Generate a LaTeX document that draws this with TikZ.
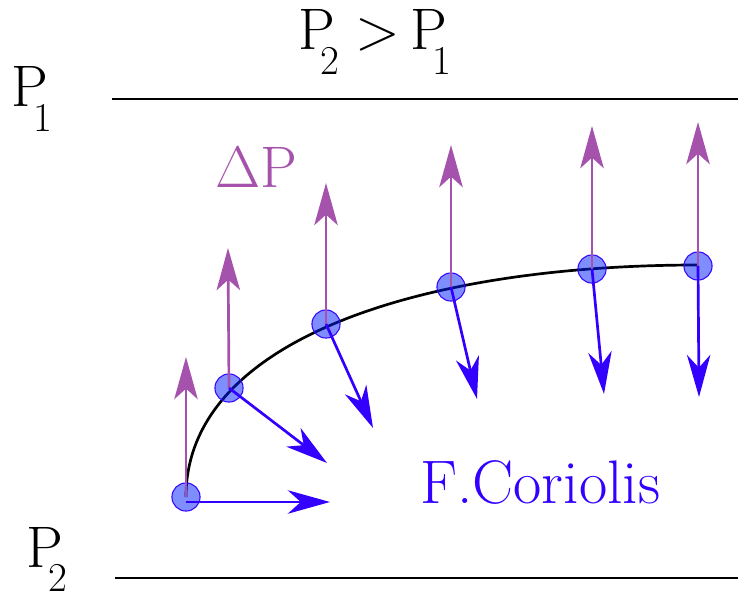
\RequirePackage{fix-cm}
\documentclass[tikz,border=0pt]{standalone}
\usetikzlibrary{arrows.meta}
\definecolor{dpcol}{RGB}{165,82,172}
\definecolor{fcol}{RGB}{51,0,255}
\definecolor{circfill}{RGB}{0,30,255}
\newcommand\lowsub[1]{\kern-12pt\raisebox{-0.42em}{\fontsize{35}{40}\selectfont #1}}
\begin{document}
\begin{tikzpicture}[x=0.03cm,y=-0.03cm,
  lbl/.style={anchor=base west, inner sep=0pt, font=\fontsize{50}{60}\selectfont},
  dot/.style={circle, minimum size=24pt, inner sep=0pt, draw=fcol, line width=0.9pt, fill=circfill, fill opacity=0.5},
  dparrow/.style={draw=dpcol, line width=2.3pt, -{Stealth[length=36pt,width=20pt,inset=9pt]}},
  farrow/.style={draw=fcol, line width=2.3pt, -{Stealth[length=36pt,width=20pt,inset=11pt]}},
  wall/.style={line width=2.5pt}]
\useasboundingbox (0,0) rectangle (738,599);
% walls
\coordinate (t1) at (112,99); \coordinate (t2) at (738,99);
\coordinate (b1) at (115,578); \coordinate (b2) at (738,578);
\draw[wall] (t1) -- (t2);
\draw[wall] (b1) -- (b2);
% labels
\node[lbl] (lp1) at (11,107) {P\lowsub{1}};
\node[lbl] (lcmp) at (298,50) {P\lowsub{2}\kern13pt$>$\kern9pt P\lowsub{1}};
\node[lbl] (lp2) at (26,567) {P\lowsub{2}};
\node[lbl, text=dpcol] (ldp) at (215,188) {$\Delta$P};
\node[lbl, text=fcol, font=\fontsize{52.5}{60}\selectfont] (lfc) at (420,503) {F.Coriolis};
% trajectory
\coordinate (s) at (186,497);
\coordinate (e) at (698,265);
\draw[line width=2.3pt] (s) .. controls (186,340) and (420,265) .. (e);
% particles
\node[dot] (c1) at (186,497) {};
\node[dot] (c2) at (229,388) {};
\node[dot] (c3) at (326,324) {};
\node[dot] (c4) at (451,287) {};
\node[dot] (c5) at (592,269) {};
\node[dot] (c6) at (698,266) {};
% pressure-gradient arrows
\coordinate (p1) at (186,357);
\coordinate (p2) at (228,248);
\coordinate (p3) at (326,183);
\coordinate (p4) at (451,145);
\coordinate (p5) at (592,126);
\coordinate (p6) at (698,122);
\foreach \i in {1,...,6} {\draw[dparrow] (c\i.center) -- (p\i);}
% Coriolis arrows
\coordinate (q1) at (186,502);
\coordinate (f1) at (330,502);
\coordinate (f2) at (327,463);
\coordinate (f3) at (373,428);
\coordinate (f4) at (477,399);
\coordinate (f5) at (604,394);
\coordinate (f6) at (699,397);
\draw[farrow] (q1) -- (f1);
\foreach \i in {2,...,6} {\draw[farrow] (c\i.center) -- (f\i);}
\end{tikzpicture}
\end{document}
